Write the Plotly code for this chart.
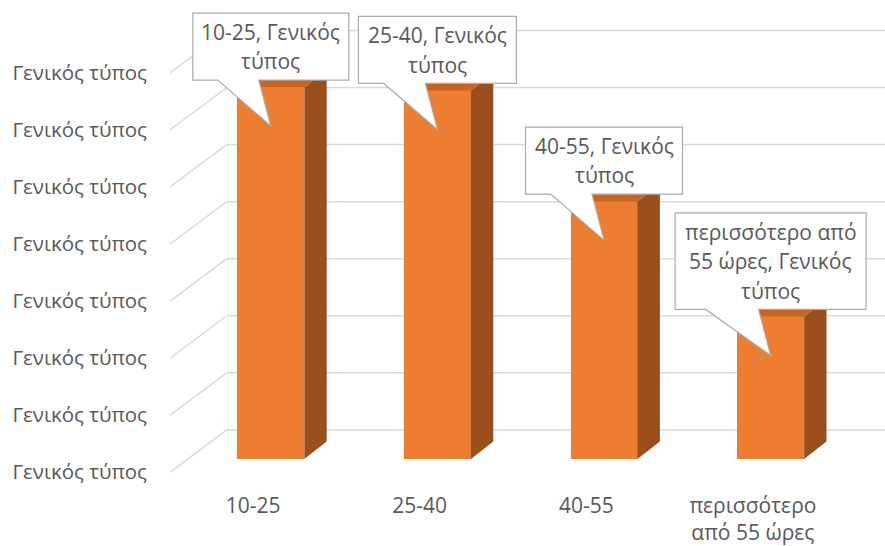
import plotly.graph_objects as go

# ---- data ----
categories = ["10-25", "25-40", "40-55", "περισσότερο από 55 ώρες"]
category_ticktext = ["10-25", "25-40", "40-55", "περισσότερο<br>από 55 ώρες"]
shares = [32.6, 32.3, 22.6, 12.5]
value_ticks = [0, 5, 10, 15, 20, 25, 30, 35]
value_ticktext = ["Γενικός τύπος"] * len(value_ticks)
callout_lines = [
    ["10-25, Γενικός", "τύπος"],
    ["25-40, Γενικός", "τύπος"],
    ["40-55, Γενικός", "τύπος"],
    ["περισσότερο από", "55 ώρες, Γενικός", "τύπος"],
]

# ---- page geometry / 3D look ----
W, H = 885, 546
ML, MB = 170, 70
CAT_PX = 166.6          # pixels per category step
VAL_PX = 11.46          # pixels per value unit
X0_PX = 253.1           # pixel of the first category on the front plane
Y0_PX = 474.3           # pixel of value 0 on the front plane

x_range = [(ML - X0_PX) / CAT_PX, (W - X0_PX) / CAT_PX]
y_range = [(Y0_PX - (H - MB)) / VAL_PX, Y0_PX / VAL_PX]

# depth offsets (pixels -> axis units)
WALL_DX, WALL_DY = 56.7 / CAT_PX, 42.6 / VAL_PX      # full depth of walls
FRONT_DX, FRONT_DY = 17.7 / CAT_PX, 13.3 / VAL_PX    # bar front plane
BAR_DX, BAR_DY = 22.4 / CAT_PX, 17.7 / VAL_PX        # bar thickness
BAR_W = 67 / CAT_PX

FRONT = "#ED7D31"
TOP = "#C9641F"
SIDE = "#9B4F1D"
GRID = "#D9D9D9"
TEXT = "#595959"
FONT = "Open Sans"

fig = go.Figure()
shapes, annotations = [], []

# gridlines: slanted on the side wall, horizontal on the back wall (behind the bars)
wall_x = x_range[0]
for v in value_ticks:
    shapes.append(dict(type="line", xref="x", yref="y", layer="below",
                       x0=wall_x, y0=v, x1=wall_x + WALL_DX, y1=v + WALL_DY,
                       line=dict(color=GRID, width=1.5)))
    shapes.append(dict(type="line", xref="x", yref="y", layer="below",
                       x0=wall_x + WALL_DX, y0=v + WALL_DY, x1=x_range[1], y1=v + WALL_DY,
                       line=dict(color=GRID, width=1.5)))

xpos = list(range(len(categories)))

# front faces
fig.add_trace(go.Bar(x=[c + FRONT_DX for c in xpos], y=shares, base=FRONT_DY,
                     width=BAR_W, marker=dict(color=FRONT, line=dict(width=0)),
                     showlegend=False, hoverinfo="skip"))

# side and top faces
for c, v in zip(xpos, shares):
    xl = c + FRONT_DX - BAR_W / 2
    xr = c + FRONT_DX + BAR_W / 2
    yb = FRONT_DY
    yt = FRONT_DY + v
    fig.add_trace(go.Scatter(
        x=[xr, xr + BAR_DX, xr + BAR_DX, xr, xr],
        y=[yb, yb + BAR_DY, yt + BAR_DY, yt, yb],
        mode="lines", fill="toself", fillcolor=SIDE, line=dict(width=0, color=SIDE),
        hoverinfo="skip", showlegend=False))
    fig.add_trace(go.Scatter(
        x=[xl, xr, xr + BAR_DX, xl + BAR_DX, xl],
        y=[yt, yt, yt + BAR_DY, yt + BAR_DY, yt],
        mode="lines", fill="toself", fillcolor=TOP, line=dict(width=0, color=TOP),
        hoverinfo="skip", showlegend=False))

# callout data labels
HALF_W = [78, 79, 78.5, 95.5]
LINE_H = 29.5
GAP = 7
TIP = 39
for c, v, lines, hw in zip(xpos, shares, callout_lines, HALF_W):
    ax = c + FRONT_DX
    ay = FRONT_DY + v
    bh = 8 + LINE_H * len(lines)
    left, right = -hw, hw
    bottom, top = GAP, GAP + bh
    base_l = left + 0.16 * 2 * hw
    base_r = -12
    path = (f"M {left},{top} L {right},{top} L {right},{bottom} "
            f"L {base_r},{bottom} L 0,{-TIP} L {base_l},{bottom} L {left},{bottom} Z")
    shapes.append(dict(type="path", path=path, xref="x", yref="y",
                       xsizemode="pixel", ysizemode="pixel",
                       xanchor=ax, yanchor=ay,
                       fillcolor="white", line=dict(color="#ABABAB", width=1.2),
                       layer="above"))
    n = len(lines)
    for k, txt in enumerate(lines):
        annotations.append(dict(
            x=ax, y=ay, xref="x", yref="y", text=txt, showarrow=False,
            xanchor="center", yanchor="middle",
            yshift=GAP + bh / 2 - (k - (n - 1) / 2) * LINE_H,
            font=dict(family=FONT, size=21, color=TEXT)))

fig.update_layout(
    width=W, height=H,
    margin=dict(l=ML, r=0, t=0, b=MB, pad=0),
    paper_bgcolor="white", plot_bgcolor="white",
    shapes=shapes, annotations=annotations,
    bargap=0,
    xaxis=dict(range=x_range, tickvals=xpos, ticktext=category_ticktext,
               showgrid=False, zeroline=False, showline=False, ticks="",
               ticklabelstandoff=17,
               tickfont=dict(family=FONT, size=21, color=TEXT), fixedrange=True),
    yaxis=dict(range=y_range, tickvals=value_ticks, ticktext=value_ticktext,
               showgrid=False, zeroline=False, showline=False, ticks="",
               ticklabelstandoff=22,
               tickfont=dict(family=FONT, size=20.5, color=TEXT), fixedrange=True),
)

fig.write_html("out.html", config=dict(displayModeBar=False))
